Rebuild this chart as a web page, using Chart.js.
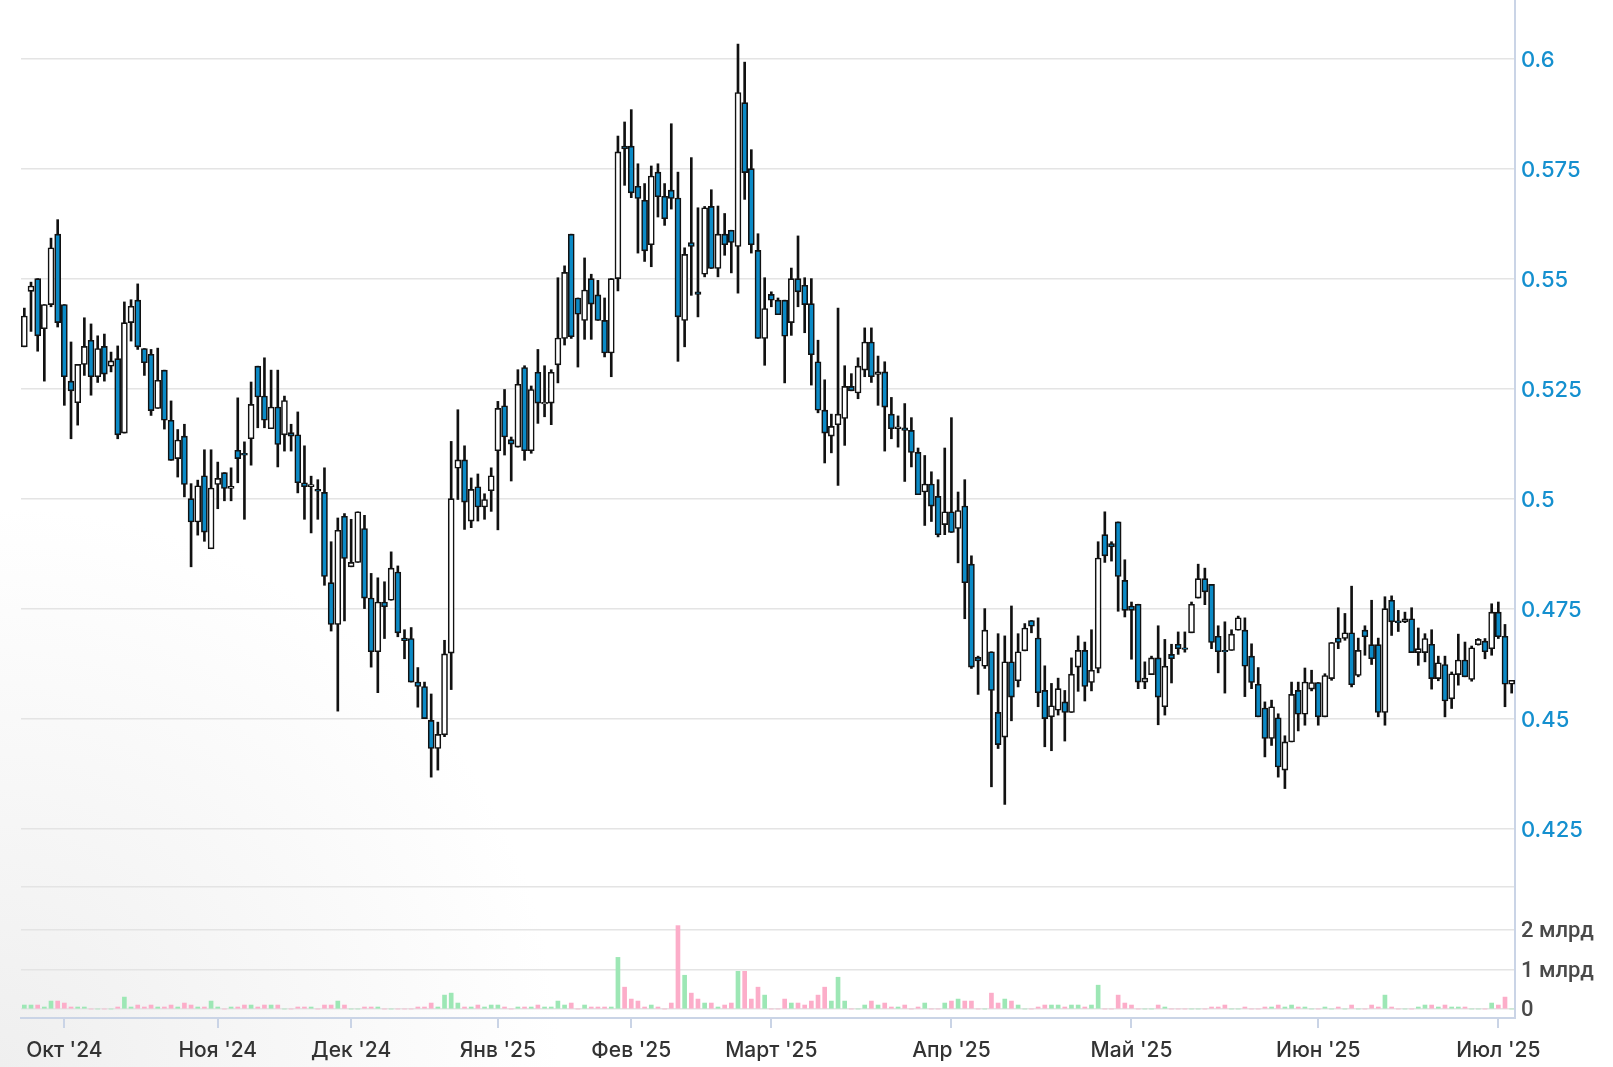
<!DOCTYPE html>
<html lang="ru">
<head>
<meta charset="utf-8">
<title>Свечной график</title>
<script src="https://cdn.jsdelivr.net/npm/chart.js@4.4.1/dist/chart.umd.min.js"></script>
<style>
  html, body { margin: 0; padding: 0; }
  body {
    width: 1613px; height: 1067px; overflow: hidden;
    background: radial-gradient(circle at 0 100%, #efefef 0, #ffffff 560px);
  }
  canvas { display: block; }
</style>
</head>
<body>
<canvas id="chart" width="1613" height="1067"></canvas>
<script>
// trading days per month
const tradingDays = {
  '2024-09': [23,24,25,26,27,30],
  '2024-10': [1,2,3,4,7,8,9,10,11,14,15,16,17,18,21,22,23,24,25,28,29,30,31],
  '2024-11': [1,5,6,7,8,11,12,13,14,15,18,19,20,21,22,25,26,27,28,29],
  '2024-12': [2,3,4,5,6,9,10,11,12,13,16,17,18,19,20,23,24,25,26,27,28,30],
  '2025-01': [3,6,8,9,10,13,14,15,16,17,20,21,22,23,24,27,28,29,30,31],
  '2025-02': [3,4,5,6,7,10,11,12,13,14,17,18,19,20,21,22,24,25,26,27,28],
  '2025-03': [1,2,3,4,5,6,7,10,11,12,13,14,15,16,17,18,19,20,21,22,23,24,25,26,27,28,31],
  '2025-04': [1,2,3,4,5,6,7,8,9,10,11,12,13,14,15,16,17,18,19,20,21,22,23,24,25,28,29],
  '2025-05': [4,5,6,7,8,9,10,11,12,13,14,15,16,17,18,19,20,21,22,23,24,25,26,27,28,29,30,31],
  '2025-06': [1,2,3,4,5,6,7,8,9,10,11,14,15,16,17,18,19,20,21,22,23,24,25,26,27,28,29],
  '2025-07': [1,2,3]
};
const monthNames = ['Янв','Фев','Март','Апр','Май','Июн','Июл','Авг','Сен','Окт','Ноя','Дек'];

const open = [
  0.5345,0.5471,0.5500,0.5386,0.5441,0.5601,0.5441,0.5267,0.5218,0.5305,
  0.5360,0.5277,0.5346,0.5301,0.5318,0.5149,0.5400,0.5451,0.5341,0.5328,
  0.5205,0.5292,0.5178,0.5091,0.5142,0.5000,0.4947,0.5052,0.4886,0.5032,
  0.5059,0.5023,0.5110,0.5103,0.5136,0.5301,0.5233,0.5159,0.5208,0.5145,
  0.5150,0.5145,0.5036,0.5027,0.5021,0.5014,0.4809,0.4714,0.4960,0.4845,
  0.4855,0.4932,0.4774,0.4652,0.4765,0.4769,0.4833,0.4683,0.4682,0.4583,
  0.4573,0.4496,0.4432,0.4463,0.4649,0.5069,0.5088,0.4949,0.5027,0.4981,
  0.5018,0.5109,0.5211,0.5134,0.5117,0.5298,0.5109,0.5287,0.5215,0.5217,
  0.5304,0.5364,0.5601,0.5456,0.5405,0.5500,0.5463,0.5405,0.5331,0.5500,
  0.5801,0.5801,0.5710,0.5678,0.5577,0.5742,0.5687,0.5701,0.5683,0.5405,
  0.5582,0.5470,0.5510,0.5664,0.5523,0.5601,0.5610,0.5573,0.5900,0.5750,
  0.5564,0.5364,0.5464,0.5451,0.5451,0.5400,0.5500,0.5485,0.5443,0.5311,
  0.5201,0.5142,0.5168,0.5182,0.5255,0.5240,0.5292,0.5356,0.5282,0.5288,
  0.5192,0.5159,0.5161,0.5155,0.5105,0.5015,0.5033,0.5005,0.4941,0.4970,
  0.4932,0.4983,0.4851,0.4639,0.4619,0.4652,0.4514,0.4458,0.4629,0.4586,
  0.4654,0.4723,0.4683,0.4564,0.4504,0.4519,0.4538,0.4514,0.4617,0.4655,
  0.4582,0.4614,0.4918,0.4898,0.4947,0.4814,0.4756,0.4760,0.4583,0.4600,
  0.4638,0.4527,0.4646,0.4669,0.4661,0.4695,0.4774,0.4818,0.4805,0.4687,
  0.4655,0.4655,0.4701,0.4701,0.4642,0.4578,0.4524,0.4455,0.4502,0.4383,
  0.4447,0.4564,0.4510,0.4567,0.4582,0.4504,0.4591,0.4683,0.4682,0.4695,
  0.4598,0.4701,0.4668,0.4668,0.4514,0.4769,0.4722,0.4720,0.4727,0.4650,
  0.4650,0.4669,0.4591,0.4623,0.4545,0.4600,0.4633,0.4589,0.4668,0.4676,
  0.4659,0.4742,0.4687,0.4578
];
const high = [
  0.5433,0.5492,0.5500,0.5441,0.5592,0.5634,0.5441,0.5356,0.5305,0.5411,
  0.5397,0.5370,0.5374,0.5333,0.5347,0.5447,0.5452,0.5488,0.5341,0.5339,
  0.5342,0.5292,0.5222,0.5157,0.5169,0.5034,0.5042,0.5111,0.5111,0.5083,
  0.5059,0.5070,0.5229,0.5129,0.5265,0.5301,0.5320,0.5292,0.5292,0.5233,
  0.5169,0.5197,0.5120,0.5051,0.5043,0.5070,0.4902,0.4956,0.4966,0.4953,
  0.4970,0.4962,0.4830,0.4820,0.4811,0.4879,0.4847,0.4702,0.4707,0.4616,
  0.4583,0.4556,0.4492,0.4678,0.5130,0.5202,0.5120,0.5047,0.5056,0.5011,
  0.5070,0.5221,0.5248,0.5140,0.5293,0.5302,0.5256,0.5339,0.5302,0.5293,
  0.5502,0.5529,0.5601,0.5456,0.5547,0.5510,0.5496,0.5456,0.5500,0.5824,
  0.5856,0.5884,0.5761,0.5716,0.5756,0.5761,0.5716,0.5852,0.5742,0.5570,
  0.5775,0.5661,0.5664,0.5702,0.5665,0.5648,0.5610,0.6033,0.5992,0.5793,
  0.5602,0.5502,0.5470,0.5456,0.5451,0.5524,0.5597,0.5502,0.5500,0.5360,
  0.5270,0.5192,0.5433,0.5302,0.5284,0.5320,0.5388,0.5388,0.5324,0.5311,
  0.5230,0.5188,0.5216,0.5184,0.5115,0.5098,0.5061,0.5043,0.5115,0.5184,
  0.5015,0.5043,0.4870,0.4642,0.4750,0.4652,0.4693,0.4688,0.4756,0.4693,
  0.4716,0.4723,0.4729,0.4620,0.4580,0.4592,0.4564,0.4638,0.4688,0.4674,
  0.4702,0.4902,0.4970,0.4902,0.4947,0.4861,0.4765,0.4760,0.4629,0.4642,
  0.4711,0.4680,0.4669,0.4697,0.4697,0.4765,0.4851,0.4842,0.4805,0.4711,
  0.4720,0.4702,0.4733,0.4729,0.4670,0.4616,0.4538,0.4542,0.4511,0.4461,
  0.4583,0.4583,0.4615,0.4610,0.4582,0.4602,0.4673,0.4752,0.4739,0.4801,
  0.4683,0.4711,0.4769,0.4683,0.4777,0.4779,0.4746,0.4742,0.4752,0.4706,
  0.4693,0.4702,0.4642,0.4642,0.4606,0.4692,0.4674,0.4665,0.4682,0.4682,
  0.4761,0.4765,0.4714,0.4587
];
const low = [
  0.5345,0.5380,0.5335,0.5267,0.5436,0.5390,0.5212,0.5136,0.5167,0.5280,
  0.5235,0.5264,0.5267,0.5288,0.5136,0.5149,0.5358,0.5339,0.5280,0.5189,
  0.5205,0.5158,0.5087,0.5049,0.5004,0.4845,0.4917,0.4903,0.4886,0.4977,
  0.4995,0.4995,0.5036,0.4953,0.5076,0.5161,0.5161,0.5159,0.5072,0.5108,
  0.5108,0.5013,0.4953,0.4922,0.4953,0.4803,0.4699,0.4517,0.4722,0.4845,
  0.4855,0.4750,0.4617,0.4559,0.4682,0.4769,0.4686,0.4636,0.4583,0.4526,
  0.4500,0.4367,0.4383,0.4459,0.4566,0.4998,0.4930,0.4934,0.4949,0.4953,
  0.4971,0.4929,0.5099,0.5040,0.5117,0.5087,0.5103,0.5171,0.5186,0.5168,
  0.5263,0.5349,0.5364,0.5299,0.5362,0.5362,0.5405,0.5322,0.5277,0.5472,
  0.5712,0.5684,0.5558,0.5539,0.5527,0.5640,0.5621,0.5658,0.5312,0.5345,
  0.5462,0.5413,0.5504,0.5523,0.5504,0.5553,0.5513,0.5467,0.5680,0.5558,
  0.5364,0.5303,0.5436,0.5418,0.5263,0.5371,0.5436,0.5377,0.5258,0.5195,
  0.5081,0.5104,0.5030,0.5121,0.5245,0.5227,0.5277,0.5264,0.5212,0.5108,
  0.5136,0.5117,0.5039,0.5072,0.5009,0.4939,0.4948,0.4913,0.4918,0.4923,
  0.4854,0.4727,0.4614,0.4555,0.4614,0.4345,0.4432,0.4305,0.4495,0.4572,
  0.4654,0.4695,0.4527,0.4436,0.4427,0.4508,0.4449,0.4514,0.4562,0.4540,
  0.4563,0.4604,0.4855,0.4858,0.4744,0.4731,0.4635,0.4568,0.4568,0.4600,
  0.4486,0.4508,0.4581,0.4646,0.4651,0.4695,0.4774,0.4759,0.4659,0.4604,
  0.4558,0.4655,0.4701,0.4550,0.4568,0.4504,0.4413,0.4439,0.4367,0.4341,
  0.4447,0.4472,0.4485,0.4563,0.4485,0.4504,0.4587,0.4659,0.4678,0.4572,
  0.4595,0.4644,0.4623,0.4504,0.4485,0.4689,0.4698,0.4718,0.4650,0.4621,
  0.4629,0.4567,0.4586,0.4504,0.4523,0.4576,0.4595,0.4585,0.4667,0.4636,
  0.4644,0.4682,0.4527,0.4558
];
const close = [
  0.5415,0.5483,0.5370,0.5441,0.5570,0.5400,0.5277,0.5245,0.5305,0.5346,
  0.5277,0.5341,0.5283,0.5313,0.5145,0.5400,0.5437,0.5345,0.5309,0.5200,
  0.5269,0.5178,0.5087,0.5133,0.5032,0.4947,0.5029,0.4924,0.5024,0.5046,
  0.5023,0.5028,0.5091,0.5099,0.5214,0.5231,0.5178,0.5208,0.5123,0.5223,
  0.5142,0.5036,0.5027,0.5032,0.5017,0.4823,0.4714,0.4928,0.4864,0.4855,
  0.4970,0.4774,0.4652,0.4765,0.4754,0.4842,0.4695,0.4677,0.4583,0.4573,
  0.4500,0.4432,0.4464,0.4647,0.5000,0.5088,0.4992,0.5021,0.4981,0.4998,
  0.5052,0.5205,0.5140,0.5124,0.5260,0.5109,0.5248,0.5217,0.5219,0.5287,
  0.5365,0.5514,0.5368,0.5419,0.5474,0.5442,0.5405,0.5331,0.5500,0.5788,
  0.5795,0.5695,0.5682,0.5563,0.5733,0.5686,0.5636,0.5682,0.5413,0.5555,
  0.5573,0.5464,0.5661,0.5523,0.5601,0.5577,0.5582,0.5923,0.5741,0.5577,
  0.5364,0.5432,0.5451,0.5418,0.5369,0.5500,0.5470,0.5441,0.5327,0.5201,
  0.5149,0.5164,0.5192,0.5255,0.5245,0.5301,0.5356,0.5277,0.5288,0.5208,
  0.5159,0.5163,0.5155,0.5105,0.5009,0.5033,0.4983,0.4918,0.4970,0.4923,
  0.4973,0.4809,0.4617,0.4631,0.4701,0.4564,0.4441,0.4629,0.4549,0.4652,
  0.4706,0.4710,0.4559,0.4500,0.4529,0.4568,0.4514,0.4601,0.4655,0.4573,
  0.4610,0.4865,0.4870,0.4890,0.4823,0.4746,0.4746,0.4583,0.4592,0.4638,
  0.4549,0.4619,0.4636,0.4659,0.4657,0.4760,0.4818,0.4788,0.4673,0.4652,
  0.4652,0.4692,0.4729,0.4619,0.4582,0.4504,0.4455,0.4527,0.4390,0.4447,
  0.4555,0.4510,0.4583,0.4582,0.4504,0.4598,0.4673,0.4673,0.4695,0.4577,
  0.4655,0.4686,0.4636,0.4514,0.4750,0.4720,0.4718,0.4727,0.4650,0.4659,
  0.4682,0.4591,0.4627,0.4540,0.4602,0.4633,0.4595,0.4661,0.4680,0.4652,
  0.4742,0.4686,0.4578,0.4587
];
// volume, millions of shares
const volume = [
  100,100,100,50,200,200,150,50,50,50,
  0,0,0,0,50,300,50,100,50,100,
  50,50,100,50,150,100,50,50,200,50,
  0,50,50,100,100,50,100,100,100,0,
  0,50,50,50,0,100,100,200,100,0,
  0,50,50,50,0,0,0,0,0,50,
  50,150,50,350,400,150,50,50,100,50,
  100,100,50,0,50,50,50,100,50,50,
  200,100,150,0,100,50,50,50,50,1300,
  550,250,200,50,100,50,0,150,2100,850,
  400,250,150,150,50,100,150,950,950,250,
  550,350,0,0,250,150,150,100,200,350,
  550,200,800,200,0,0,100,200,100,150,
  50,50,100,0,50,150,0,0,150,200,
  250,200,200,0,0,400,150,250,200,100,
  0,0,50,100,100,100,50,100,100,50,
  100,600,0,0,350,150,100,0,0,0,
  100,50,0,0,0,0,0,0,50,50,
  100,0,0,50,0,0,50,50,100,50,
  100,50,50,0,0,50,0,50,0,100,
  0,0,100,50,350,50,0,0,0,50,
  100,100,50,100,50,50,50,0,0,0,
  150,100,300,0
];

const priceTicks = [0.425, 0.45, 0.475, 0.5, 0.525, 0.55, 0.575, 0.6];
const priceTickLabels = ['0.425', '0.45', '0.475', '0.5', '0.525', '0.55', '0.575', '0.6'];
const volumeTicks = [0, 1000, 2000];
const volumeTickLabels = ['0', '1 млрд', '2 млрд'];

const labels = [];
Object.keys(tradingDays).forEach(m => {
  tradingDays[m].forEach(d => labels.push(m + '-' + String(d).padStart(2, '0')));
});
const monthStart = labels.map((l, i) => i > 0 && l.slice(0, 7) !== labels[i - 1].slice(0, 7));
function monthLabel(l) {
  return monthNames[+l.slice(5, 7) - 1] + " '" + l.slice(2, 4);
}

const UP_FILL = '#ffffff';
const DOWN_FILL = '#0b8ac6';
const OUTLINE = '#111111';
const VOL_UP = '#9de7b5';
const VOL_DOWN = '#fcadc9';
const GRID = '#e4e4e4';
const AXIS = '#cad4e6';
const VOL_TOP = 3073;

const isUp = close.map((c, i) => c >= open[i]);

new Chart(document.getElementById('chart'), {
  type: 'bar',
  data: {
    labels: labels,
    datasets: [
      {
        label: 'Свечи',
        data: open.map((o, i) => [o, close[i]]),
        yAxisID: 'y',
        backgroundColor: isUp.map(u => u ? UP_FILL : DOWN_FILL),
        borderColor: OUTLINE,
        borderWidth: 1.6,
        borderSkipped: false,
        barThickness: 6,
        grouped: false,
        order: 1
      },
      {
        label: 'Тени',
        data: low.map((l, i) => [l, high[i]]),
        yAxisID: 'y',
        backgroundColor: OUTLINE,
        borderWidth: 0,
        barThickness: 2,
        grouped: false,
        order: 2
      },
      {
        label: 'Объём',
        data: volume,
        yAxisID: 'yv',
        backgroundColor: isUp.map(u => u ? VOL_UP : VOL_DOWN),
        borderWidth: 0,
        barThickness: 4,
        grouped: false,
        order: 3
      }
    ]
  },
  options: {
    responsive: false,
    animation: false,
    devicePixelRatio: 1,
    layout: { padding: { left: 21, right: 0, top: 0, bottom: 0 } },
    plugins: { legend: { display: false }, tooltip: { enabled: false } },
    scales: {
      x: {
        offset: true,
        grid: { drawOnChartArea: false, drawTicks: true, tickLength: 10, color: AXIS, lineWidth: 2, offset: false },
        border: { display: true, color: AXIS, width: 2 },
        ticks: {
          autoSkip: false, maxRotation: 0, padding: 10,
          color: '#333333', font: { family: 'Inter', size: 21, weight: '500' },
          callback: v => monthLabel(labels[v])
        },
        afterBuildTicks: s => { s.ticks = s.ticks.filter(t => monthStart[t.value]); },
        afterFit: s => { s.height = 49; s.paddingLeft = 0; s.paddingRight = 0; }
      },
      y: {
        position: 'right',
        stack: 'panes',
        stackWeight: 887,
        min: 0.41173,
        max: 0.61332,
        grid: { color: GRID, lineWidth: 1.5, drawTicks: false },
        border: { display: true, color: AXIS, width: 2 },
        ticks: {
          autoSkip: false, padding: 6, labelOffset: 2, color: '#1590cf',
          font: { family: 'Inter', size: 22, weight: '500' },
          callback: v => priceTickLabels[priceTicks.indexOf(v)]
        },
        afterBuildTicks: s => { s.ticks = priceTicks.map(v => ({ value: v })); },
        afterFit: s => { s.width = 98; s.paddingTop = 0; s.paddingBottom = 0; }
      },
      yv: {
        position: 'right',
        stack: 'panes',
        stackWeight: 131,
        min: -226.7,
        max: VOL_TOP,
        grid: { color: GRID, lineWidth: 1.5, drawTicks: false },
        border: { display: true, color: AXIS, width: 2 },
        ticks: {
          autoSkip: false, padding: 6, labelOffset: 2, color: '#4a4a4a',
          font: { family: 'Roboto', size: 22, weight: '500' },
          callback: v => { const k = volumeTicks.indexOf(v); return k >= 0 ? volumeTickLabels[k] : ''; }
        },
        afterBuildTicks: s => { s.ticks = volumeTicks.concat([VOL_TOP]).map(v => ({ value: v })); },
        afterFit: s => { s.width = 98; s.paddingTop = 0; s.paddingBottom = 0; }
      }
    }
  }
});
</script>
</body>
</html>
